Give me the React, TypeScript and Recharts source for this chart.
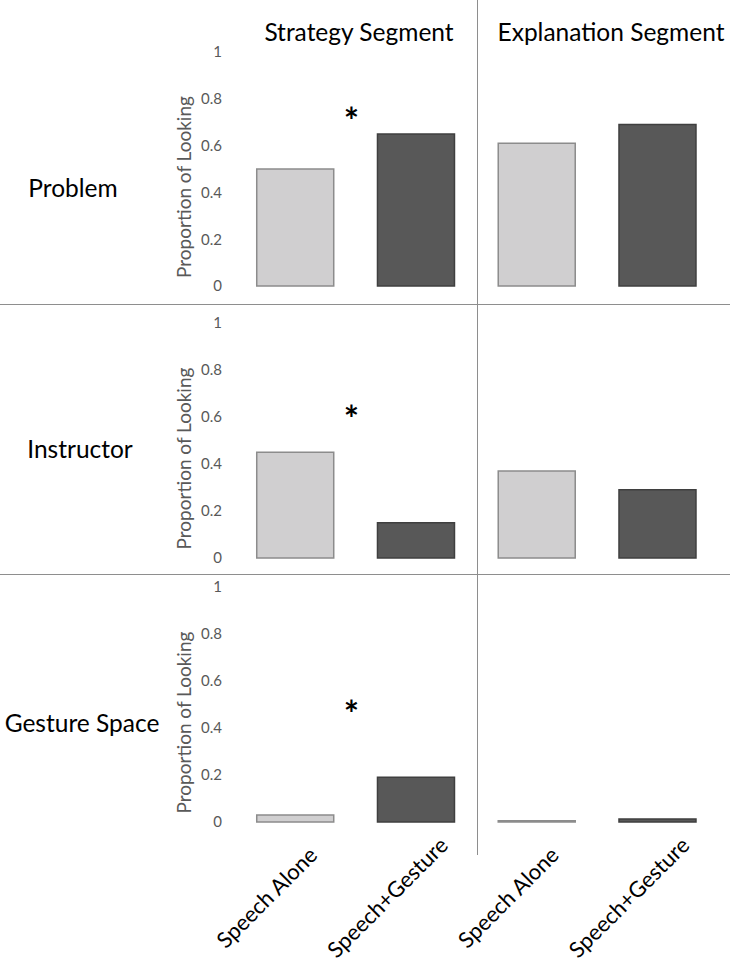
import React from 'react';
import { BarChart, Bar, XAxis, YAxis, Cell, ReferenceDot } from 'recharts';

// ---------- data ----------
const segments = ['Strategy Segment', 'Explanation Segment'];
const conditions = ['Speech Alone', 'Speech+Gesture'];
const rowLabels = ['Problem', 'Instructor', 'Gesture Space'];
const yTicks = [0, 0.2, 0.4, 0.6, 0.8, 1];
const yAxisTitle = 'Proportion of Looking';

const problemStrategy = [0.5, 0.65];
const problemExplanation = [0.61, 0.69];
const instructorStrategy = [0.45, 0.15];
const instructorExplanation = [0.37, 0.29];
const gestureStrategy = [0.03, 0.19];
const gestureExplanation = [0.005, 0.013];

const significanceMark = '*';
const significanceY = [0.705, 0.59, 0.46];

const buildRow = (strategy: number[], explanation: number[]) => [
  ...conditions.map((c, i) => ({ key: `s-${i}`, label: c, value: strategy[i], cond: i })),
  ...conditions.map((c, i) => ({ key: `e-${i}`, label: c, value: explanation[i], cond: i })),
];

const rowsData = [
  buildRow(problemStrategy, problemExplanation),
  buildRow(instructorStrategy, instructorExplanation),
  buildRow(gestureStrategy, gestureExplanation),
];

// ---------- styles / layout ----------
const FONT = 'Lato, "Open Sans", sans-serif';
const fills = ['#d0cfd0', '#585858'];
const strokes = ['#8c8c8c', '#3f3f3f'];
const plotTop = [52, 323, 587];
const plotH = [234, 235, 235];
const rowLabelPos = [
  { x: 73, y: 188 },
  { x: 80, y: 449 },
  { x: 82, y: 723 },
];
const headingPos = [
  { x: 359, y: 32 },
  { x: 611, y: 32 },
];
const MARGIN_TOP = 10;
const MARGIN_BOTTOM = 12;
const XAXIS_H = 145;

const labelOf = (key: string) => {
  const idx = Number(String(key).split('-')[1]);
  return conditions[idx] ?? '';
};

const XTick = (props: any) => {
  const { x, y, payload } = props;
  const cx = x - 29;
  const cy = y + 67;
  return (
    <text
      x={cx}
      y={cy}
      textAnchor="middle"
      dominantBaseline="central"
      transform={`rotate(-45 ${cx} ${cy})`}
      fontSize={22}
      fill="#000"
      fontFamily={FONT}
    >
      {labelOf(payload.value)}
    </text>
  );
};

const YTitle = (props: any) => {
  const vb = props && props.viewBox ? props.viewBox : { x: 0, y: 0, width: 235, height: 235 };
  const cx = vb.x + 183;
  const cy = vb.y + vb.height / 2 + 18;
  return (
    <text
      x={cx}
      y={cy}
      textAnchor="middle"
      dominantBaseline="central"
      transform={`rotate(-90 ${cx} ${cy})`}
      fontSize={19}
      fill="#595959"
      fontFamily={FONT}
    >
      {yAxisTitle}
    </text>
  );
};

const Row = ({ r }: { r: number }) => {
  const data = rowsData[r];
  const last = r === rowsData.length - 1;
  const bottom = last ? 0 : MARGIN_BOTTOM;
  const height = MARGIN_TOP + plotH[r] + bottom + (last ? XAXIS_H : 0);
  return (
    <div style={{ position: 'absolute', left: 0, top: plotTop[r] - MARGIN_TOP }}>
      <BarChart
        width={730}
        height={height}
        data={data}
        margin={{ top: MARGIN_TOP, right: 12, left: 0, bottom }}
        barCategoryGap="18%"
      >
        <XAxis
          dataKey="key"
          hide={!last}
          height={last ? XAXIS_H : 0}
          axisLine={false}
          tickLine={false}
          interval={0}
          tick={<XTick />}
        />
        <YAxis
          width={235}
          domain={[0, 1]}
          ticks={yTicks}
          axisLine={false}
          tickLine={false}
          tickMargin={7}
          tick={{ fill: '#595959', fontSize: 15, fontFamily: FONT }}
          label={(p: any) => <YTitle {...p} />}
        />
        <Bar dataKey="value" isAnimationActive={false} strokeWidth={1.5}>
          {data.map((d, i) => (
            <Cell key={i} fill={fills[d.cond]} stroke={strokes[d.cond]} />
          ))}
        </Bar>
        <ReferenceDot
          x={data[0].key}
          y={significanceY[r]}
          r={0}
          fill="none"
          stroke="none"
          label={{
            value: significanceMark,
            position: 'center',
            dx: 56,
            fontSize: 36,
            fontWeight: 'bold',
            fill: '#000',
            fontFamily: FONT,
          }}
        />
      </BarChart>
    </div>
  );
};

export default function App() {
  return (
    <div
      style={{
        position: 'absolute',
        left: 0,
        top: 0,
        width: 730,
        height: 965,
        background: '#fff',
        fontFamily: FONT,
        overflow: 'hidden',
      }}
    >
      {rowsData.map((_, r) => (
        <Row key={r} r={r} />
      ))}
      {/* separators */}
      <div style={{ position: 'absolute', left: 0, top: 303.5, width: 730, height: 1.5, background: '#8e8e8e' }} />
      <div style={{ position: 'absolute', left: 0, top: 573.5, width: 730, height: 1.5, background: '#8e8e8e' }} />
      <div style={{ position: 'absolute', left: 476.5, top: 0, width: 1.5, height: 855, background: '#8e8e8e' }} />
      {/* headings */}
      {segments.map((s, i) => (
        <div
          key={s}
          style={{
            position: 'absolute',
            left: headingPos[i].x - 150,
            top: headingPos[i].y - 15,
            width: 300,
            height: 30,
            lineHeight: '30px',
            textAlign: 'center',
            fontSize: 24.5,
            color: '#000',
            whiteSpace: 'nowrap',
          }}
        >
          {s}
        </div>
      ))}
      {/* row labels */}
      {rowLabels.map((s, i) => (
        <div
          key={s}
          style={{
            position: 'absolute',
            left: rowLabelPos[i].x - 90,
            top: rowLabelPos[i].y - 15,
            width: 180,
            height: 30,
            lineHeight: '30px',
            textAlign: 'center',
            fontSize: 24.5,
            color: '#000',
            whiteSpace: 'nowrap',
          }}
        >
          {s}
        </div>
      ))}
    </div>
  );
}
